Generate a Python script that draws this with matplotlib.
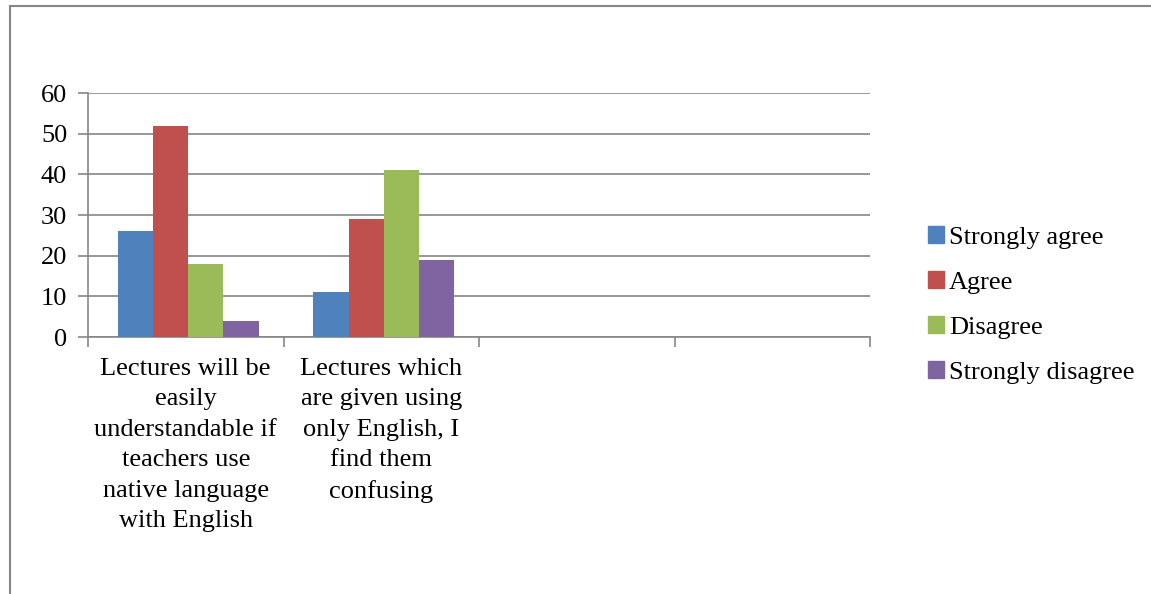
import matplotlib.pyplot as plt
import matplotlib.patches as mpatches
import numpy as np

plt.rcParams['font.family'] = ['Liberation Serif', 'DejaVu Serif']

# Survey responses per statement (two statements filled, two empty slots)
categories = [
    "Lectures will be\neasily\nunderstandable if\nteachers use\nnative language\nwith English",
    "Lectures which\nare given using\nonly English, I\nfind them\nconfusing",
    "",
    "",
]
series = ["Strongly agree", "Agree", "Disagree", "Strongly disagree"]
strongly_agree = [26, 11, 0, 0]
agree = [52, 29, 0, 0]
disagree = [18, 41, 0, 0]
strongly_disagree = [4, 19, 0, 0]
values = [strongly_agree, agree, disagree, strongly_disagree]
colors = ['#4F81BD', '#C0504D', '#9BBB59', '#8064A2']
y_ticks = [0, 10, 20, 30, 40, 50, 60]

W, H = 1151, 594
fig = plt.figure(figsize=(W / 100, H / 100), dpi=100)

# outer chart frame (cropped on the right and bottom)
frame = mpatches.Rectangle((10 / W, -0.05), 1.2, 1 - 6 / H + 0.05,
                           transform=fig.transFigure, fill=False,
                           edgecolor='#868686', linewidth=1.5)
fig.patches.append(frame)

ax = fig.add_axes([88 / W, 1 - 337 / H, (870 - 88) / W, (337 - 93) / H])

x = np.arange(len(categories))
bw = 0.18
shift = 0.013
for i, (vals, col) in enumerate(zip(values, colors)):
    ax.bar(x + (i - 1.5) * bw + shift, vals, width=bw, color=col,
           label=series[i], zorder=3)

ax.set_xlim(-0.5, len(categories) - 0.5)
ax.set_ylim(0, 60)
ax.set_yticks(y_ticks)
ax.yaxis.grid(True, color='#868686', linewidth=1.2, zorder=0)
ax.tick_params(axis='y', length=7, width=1.2, color='#868686',
               labelsize=19, pad=8)

# category boundaries as major ticks, labels on minor ticks
ax.set_xticks(np.arange(len(categories) + 1) - 0.5)
ax.set_xticklabels([])
ax.tick_params(axis='x', which='major', length=7, width=1.2, color='#868686')
ax.set_xticks(x, minor=True)
ax.set_xticklabels(categories, minor=True, fontsize=19, linespacing=1.5,
                   multialignment='center')
ax.tick_params(axis='x', which='minor', length=0, pad=15)

for side in ['top', 'right']:
    ax.spines[side].set_visible(False)
for side in ['left', 'bottom']:
    ax.spines[side].set_color('#868686')
    ax.spines[side].set_linewidth(1.2)

handles = [mpatches.Patch(color=c, label=s) for c, s in zip(colors, series)]
fig.legend(handles=handles, loc='center left',
           bbox_to_anchor=(928 / W, 1 - 305 / H), frameon=False,
           fontsize=19, handlelength=0.6, handleheight=0.6,
           handletextpad=0.2, labelspacing=0.85, borderpad=0,
           borderaxespad=0)

fig.savefig('out.png', dpi=100)
